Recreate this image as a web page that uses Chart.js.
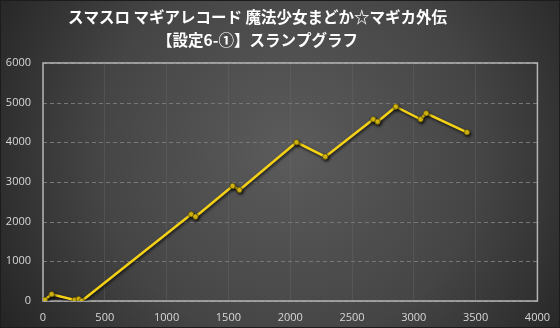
<!DOCTYPE html>
<html>
<head>
<meta charset="utf-8">
<script src="https://cdn.jsdelivr.net/npm/chart.js@4/dist/chart.umd.min.js"></script>
<style>
html,body{margin:0;padding:0;background:#2a2a2a;}
#wrap{width:560px;height:328px;position:relative;}
</style>
</head>
<body>
<div id="wrap"><canvas id="c" width="560" height="328"></canvas></div>
<script>
const titleLines = ["スマスロ マギアレコード 魔法少女まどか☆マギカ外伝", "【設定6-①】スランプグラフ"];
const games = [0, 15, 70, 257, 289, 313, 1199, 1234, 1534, 1590, 2051, 2284, 2672, 2707, 2854, 3055, 3100, 3430];
const diff  = [0, 30, 170, 25, 50, 0, 2185, 2125, 2899, 2798, 4000, 3638, 4580, 4520, 4898, 4580, 4731, 4252];
const xTicks = [0, 500, 1000, 1500, 2000, 2500, 3000, 3500, 4000];
const yTicks = [0, 1000, 2000, 3000, 4000, 5000, 6000];

const points = games.map((g, i) => ({x: g, y: diff[i]}));

const bgPlugin = {
  id: 'bg',
  afterLayout(chart) {
    if (chart.titleBlock) { chart.titleBlock.left -= 26; }
  },
  beforeDraw(chart) {
    const ctx = chart.ctx, w = chart.width, h = chart.height;
    ctx.save();
    const g = ctx.createRadialGradient(290, 150, 10, 290, 150, 340);
    g.addColorStop(0, '#5a5a5a');
    g.addColorStop(0.55, '#454545');
    g.addColorStop(1, '#242424');
    ctx.fillStyle = g;
    ctx.fillRect(0, 0, w, h);
    ctx.strokeStyle = '#1c1c1c';
    ctx.lineWidth = 2;
    ctx.strokeRect(0, 0, w, h);
    ctx.restore();
  }
};
const framePlugin = {
  id: 'frame',
  beforeDatasetsDraw(chart) {
    const a = chart.chartArea, ctx = chart.ctx, ys = chart.scales.y;
    ctx.save();
    ctx.strokeStyle = '#777777';
    ctx.lineWidth = 1;
    ctx.setLineDash([4, 3]);
    ys.ticks.forEach(t => {
      const py = Math.round(ys.getPixelForValue(t.value)) + 0.5;
      ctx.beginPath();
      ctx.moveTo(a.left, py);
      ctx.lineTo(a.right, py);
      ctx.stroke();
    });
    ctx.setLineDash([]);
    ctx.strokeStyle = '#b4b4b4';
    ctx.lineWidth = 1.5;
    ctx.strokeRect(a.left, a.top, a.right - a.left, a.bottom - a.top);
    ctx.restore();
  }
};
const shadowPlugin = {
  id: 'shadow',
  beforeDatasetDraw(chart) {
    const ctx = chart.ctx;
    ctx.save();
    ctx.shadowColor = 'rgba(0,0,0,0.75)';
    ctx.shadowBlur = 3;
    ctx.shadowOffsetX = 1;
    ctx.shadowOffsetY = 1.5;
  },
  afterDatasetDraw(chart) {
    chart.ctx.restore();
  }
};

const tickFont = { family: '"Open Sans", "Noto Sans", sans-serif', size: 11 };

new Chart(document.getElementById('c'), {
  type: 'line',
  data: {
    datasets: [{
      data: points,
      borderColor: '#f5d215',
      backgroundColor: '#f5d215',
      borderWidth: 2.5,
      pointRadius: 2.6,
      pointBorderColor: '#6a5a00',
      pointBorderWidth: 0.8,
      pointBackgroundColor: '#f5d215',
      tension: 0,
      fill: false
    }]
  },
  plugins: [bgPlugin, framePlugin, shadowPlugin],
  options: {
    responsive: false,
    animation: false,
    devicePixelRatio: 1,
    layout: { padding: { left: 0, right: 19, top: 0, bottom: 0 } },
    plugins: {
      legend: { display: false },
      tooltip: { enabled: false },
      title: {
        display: true,
        text: titleLines,
        color: '#ffffff',
        font: { family: '"Noto Sans CJK JP", sans-serif', size: 15.5, weight: 'bold', lineHeight: 1.45 },
        padding: { top: 6, bottom: 12 }
      }
    },
    scales: {
      x: {
        type: 'linear',
        min: 0, max: 4000,
        afterBuildTicks(s) { s.ticks = xTicks.map(v => ({value: v})); },
        afterFit(s) { s.height = 27; },
        ticks: { color: '#d8d8d8', font: tickFont, padding: 10, maxRotation: 0, callback: v => String(v) },
        grid: { color: 'rgba(110,110,110,0.35)', lineWidth: 1, drawTicks: false },
        border: { display: false }
      },
      y: {
        min: 0, max: 6000,
        afterBuildTicks(s) { s.ticks = yTicks.map(v => ({value: v})); },
        afterFit(s) { s.width = 43; },
        ticks: { color: '#d8d8d8', font: tickFont, padding: 12, callback: v => String(v) },
        grid: { display: false, drawTicks: false },
        border: { display: false }
      }
    }
  }
});
</script>
</body>
</html>
